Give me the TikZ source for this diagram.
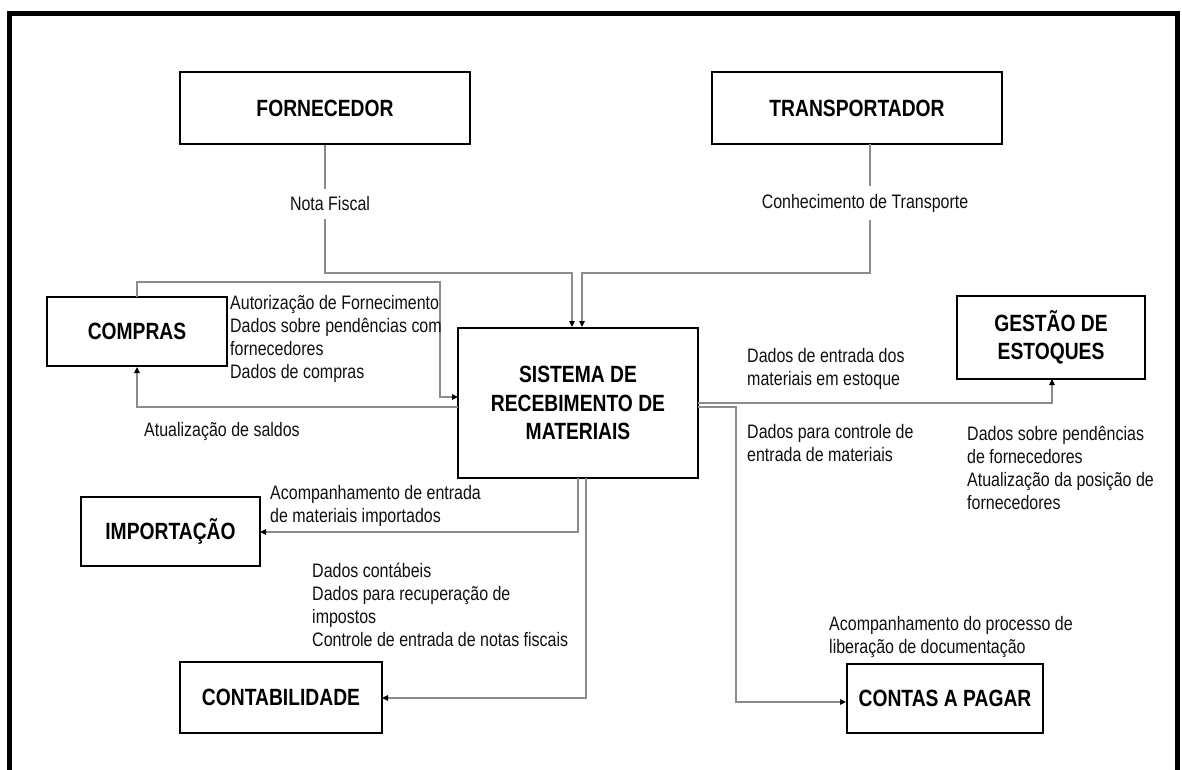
\documentclass[tikz,border=0pt]{standalone}
\usepackage{fontspec}
\setmainfont{Liberation Sans}[FakeStretch=0.82]
\usetikzlibrary{arrows.meta,calc}
\definecolor{linegray}{HTML}{8C8C8C}
\definecolor{txt}{HTML}{101010}
\tikzset{
  box/.style={draw=black, line width=2pt, fill=white, inner sep=0pt, align=center,
    font=\fontsize{23.5}{28.5}\selectfont\bfseries, text=black},
  conn/.style={draw=linegray, line width=1.3pt,
    -{Triangle[length=6pt,width=5.5pt,color=black]}},
  lbl/.style={inner sep=0pt, align=left, anchor=west, text=txt,
    font=\fontsize{19.5}{23}\selectfont},
  clbl/.style={inner sep=0pt, align=center, text=txt, fill=white,
    inner ysep=8pt, inner xsep=4pt, font=\fontsize{19.5}{23}\selectfont},
  frame/.style={draw=black, line width=5pt}
}
\begin{document}
\begin{tikzpicture}[x=1pt,y=-1pt]
\useasboundingbox (0,0) rectangle (1182,769);
% outer frame (open at bottom)
\draw[frame] (9,790) -- (9,13) -- (1177,13) -- (1177,790);

% boxes
\node[box, minimum width=290, minimum height=72] (forn) at (325,108) {FORNECEDOR};
\node[box, minimum width=290, minimum height=72] (trans) at (857,108) {TRANSPORTADOR};
\node[box, minimum width=180, minimum height=69] (comp) at (137,331.5) {COMPRAS};
\node[box, minimum width=240, minimum height=150] (sist) at (578,403) {SISTEMA DE\\RECEBIMENTO DE\\MATERIAIS};
\node[box, minimum width=188, minimum height=83] (gest) at (1051,337.5) {GESTÃO DE\\ESTOQUES};
\node[box, minimum width=179, minimum height=69] (imp) at (170.5,531.5) {IMPORTAÇÃO};
\node[box, minimum width=202, minimum height=71] (cont) at (281,697.5) {CONTABILIDADE};
\node[box, minimum width=196, minimum height=69] (cpag) at (945,698.5) {CONTAS A PAGAR};

% bend points
\coordinate (nf1) at (572,273);
\coordinate (ct0) at (870,144);
\coordinate (ct1) at (582,273);
\coordinate (cp0) at (137,297);
\coordinate (cp1) at (440,282);
\coordinate (cp2) at (458,397);
\coordinate (at0) at (458,407);
\coordinate (gs0) at (698,403);
\coordinate (gs1) at (1052,379);
\coordinate (pg0) at (698,407);
\coordinate (pg1) at (736,702);
\coordinate (im0) at (578,478);
\coordinate (im1) at (260,532);
\coordinate (ck0) at (586,478);
\coordinate (ck1) at (382,698);

% connectors
\draw[conn] (forn.south) |- (nf1) -- (nf1 |- sist.north);
\draw[conn] (ct0) |- (ct1) -- (ct1 |- sist.north);
\draw[conn] (cp0) |- (cp1) |- (cp2);
\draw[conn] (at0) -| (comp.south);
\draw[conn] (gs0) -| (gs1);
\draw[conn] (pg0) -| (pg1) -- (pg1 -| cpag.west);
\draw[conn] (im0) |- (im1);
\draw[conn] (ck0) |- (ck1);

% labels on vertical lines
\node[clbl] (lnf) at (330,204) {Nota Fiscal};
\node[clbl] (lct) at (865,203) {Conhecimento de Transporte};

% other labels
\node[lbl] (l1) at (230,338.5) {Autorização de Fornecimento\\Dados sobre pendências com\\fornecedores\\Dados de compras};
\node[lbl] (l2) at (144,431) {Atualização de saldos};
\node[lbl] (l3) at (747,369) {Dados de entrada dos\\materiais em estoque};
\node[lbl] (l4) at (747,443.5) {Dados para controle de\\entrada de materiais};
\node[lbl] (l5) at (967,467.5) {Dados sobre pendências\\de fornecedores\\Atualização da posição de\\fornecedores};
\node[lbl] (l6) at (270,505.5) {Acompanhamento de entrada\\de materiais importados};
\node[lbl] (l7) at (312,604.5) {Dados contábeis\\Dados para recuperação de\\impostos\\Controle de entrada de notas fiscais};
\node[lbl] (l8) at (829,636.5) {Acompanhamento do processo de\\liberação de documentação};
\end{tikzpicture}
\end{document}
